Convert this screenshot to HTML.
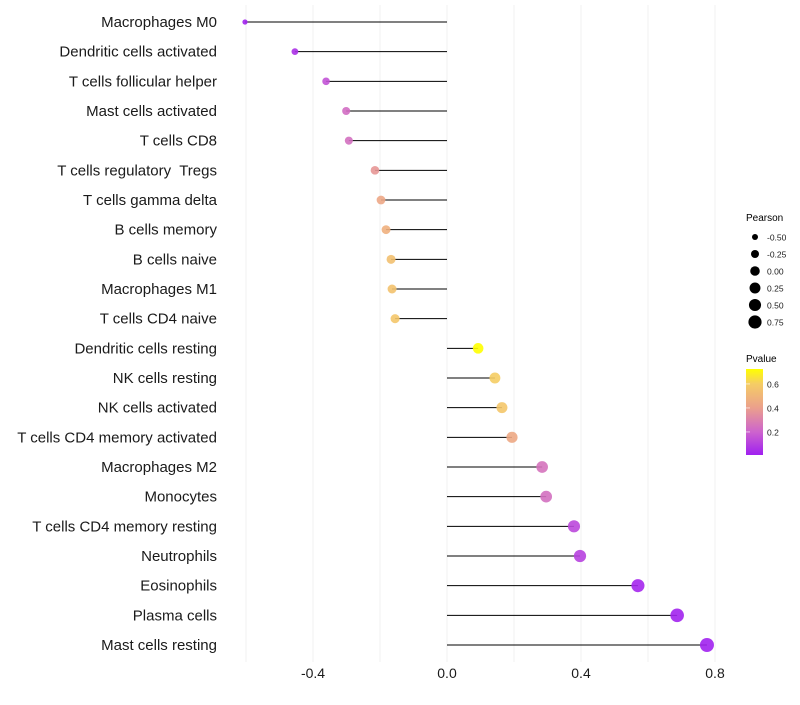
<!DOCTYPE html>
<html><head><meta charset="utf-8"><style>
body{margin:0;background:#fff;font-family:"Liberation Sans",sans-serif;}
svg text{font-family:"Liberation Sans",sans-serif;white-space:pre;}
</style></head><body>
<svg id="chart" width="800" height="700" xmlns="http://www.w3.org/2000/svg">
<g id="grid"></g>
<g id="marks"></g>
<g id="ylab"></g>
<g id="xlab"></g>
<g id="legend">
<text x="746" y="221" font-size="10">Pearson</text>
<text x="746" y="362" font-size="10">Pvalue</text>
<defs><linearGradient id="pg" x1="0" y1="1" x2="0" y2="0">
<stop offset="0" stop-color="#a020f0"/><stop offset="0.27" stop-color="#cd64cd"/><stop offset="0.55" stop-color="#eba08c"/><stop offset="0.83" stop-color="#f5cd64"/><stop offset="1" stop-color="#ffff00"/></linearGradient></defs>
<rect x="746" y="369" width="17" height="86" fill="url(#pg)"/>
</g>
</svg>
<script>
const categories=["Macrophages M0","Dendritic cells activated","T cells follicular helper","Mast cells activated","T cells CD8","T cells regulatory  Tregs","T cells gamma delta","B cells memory","B cells naive","Macrophages M1","T cells CD4 naive","Dendritic cells resting","NK cells resting","NK cells activated","T cells CD4 memory activated","Macrophages M2","Monocytes","T cells CD4 memory resting","Neutrophils","Eosinophils","Plasma cells","Mast cells resting"];
const pearson=[-0.603,-0.454,-0.361,-0.301,-0.293,-0.215,-0.197,-0.182,-0.167,-0.164,-0.155,0.093,0.143,0.164,0.194,0.284,0.296,0.379,0.397,0.570,0.687,0.776];
const pvalues=[0.01,0.05,0.15,0.23,0.24,0.37,0.43,0.47,0.54,0.55,0.57,0.72,0.6,0.57,0.44,0.25,0.24,0.12,0.1,0.02,0.01,0.005];
const xTicks=[-0.4,0.0,0.4,0.8];
const xTickLabels=["-0.4","0.0","0.4","0.8"];
const gridVals=[-0.6,-0.4,-0.2,0,0.2,0.4,0.6,0.8];
const sizeLegend=[-0.50,-0.25,0.00,0.25,0.50,0.75];
const sizeLegendLabels=["-0.50","-0.25","0.00","0.25","0.50","0.75"];
const pLegend=[0.6,0.4,0.2];
const pLegendLabels=["0.6","0.4","0.2"];

const NS="http://www.w3.org/2000/svg";
const xs=v=>447+v*335;
const ys=i=>22+i*(623/21);
const rs=v=>Math.sqrt(Math.max(3,25.3+30.6*v));
const stops=[[0,[160,32,240]],[0.2,[205,100,205]],[0.4,[235,160,140]],[0.6,[245,205,100]],[0.72,[255,255,0]]];
function col(p){for(let i=1;i<stops.length;i++){if(p<=stops[i][0]){const a=stops[i-1],b=stops[i];const t=(p-a[0])/(b[0]-a[0]);return 'rgb('+a[1].map((c,k)=>Math.round(c+(b[1][k]-c)*t)).join(',')+')';}}return 'rgb(255,255,0)';}
function mk(tag,attrs,parent){const e=document.createElementNS(NS,tag);for(const k in attrs)e.setAttribute(k,attrs[k]);parent.appendChild(e);return e;}
const grid=document.getElementById('grid'),marks=document.getElementById('marks'),ylab=document.getElementById('ylab'),xlab=document.getElementById('xlab'),leg=document.getElementById('legend');
gridVals.forEach(v=>{const l=mk('line',{x1:xs(v),x2:xs(v),y1:5,y2:662,stroke:'#f0f0f0','stroke-width':1},grid);

});
categories.forEach((c,i)=>{
const y=ys(i);
const seg=mk('line',{x1:xs(0),x2:xs(pearson[i]),y1:y,y2:y,stroke:'#000','stroke-width':1},marks);


const pt=mk('circle',{cx:xs(pearson[i]),cy:y,r:rs(pearson[i]),fill:col(pvalues[i]),'fill-opacity':0.9},marks);


const t=mk('text',{x:217,y:y+5,'text-anchor':'end','font-size':15,fill:'#1a1a1a'},ylab);t.textContent=c;


});
xTicks.forEach((v,i)=>{const t=mk('text',{x:xs(v),y:678,'text-anchor':'middle','font-size':14,fill:'#1a1a1a'},xlab);t.textContent=xTickLabels[i];

});
sizeLegend.forEach((v,i)=>{const y=237+i*17;
const c=mk('circle',{cx:755,cy:y,r:rs(v)*0.95,fill:'#000'},leg);


const t=mk('text',{x:767,y:y+3.5,'font-size':8.5,fill:'#1a1a1a'},leg);t.textContent=sizeLegendLabels[i];

});
pLegend.forEach((v,i)=>{const y=455-(v-0.008)/0.2*24;
const t=mk('text',{x:767,y:y+3.5,'font-size':8.5,fill:'#1a1a1a'},leg);t.textContent=pLegendLabels[i];


const tk=mk('line',{x1:746,x2:750,y1:y,y2:y,stroke:'#fff','stroke-width':0.6},leg);

});
</script>
</body></html>
